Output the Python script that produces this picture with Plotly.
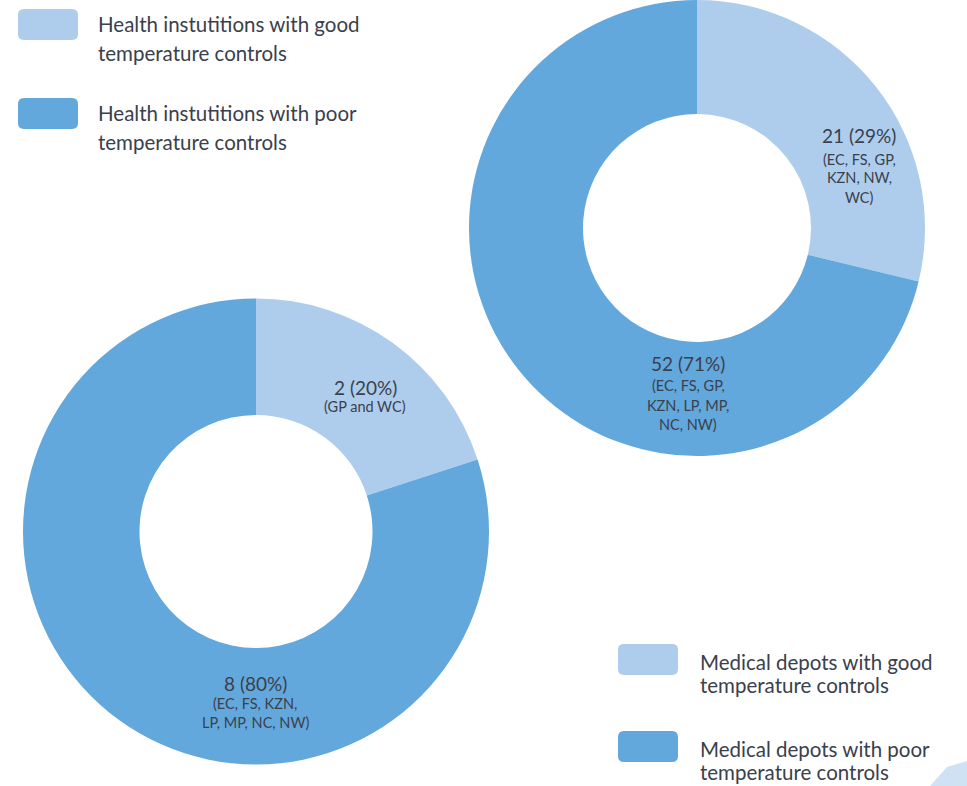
import plotly.graph_objects as go

W, H = 967, 786

LIGHT = "#aecdec"
DARK = "#62a8dc"
TEXT = "#3a404c"
FONT = "Lato"

# Medical depots (upper-right donut)
depot_labels = ["Medical depots with good temperature controls",
                "Medical depots with poor temperature controls"]
depot_values = [21, 52]
depot_provinces = [["(EC, FS, GP,", "KZN, NW,", "WC)"],
                   ["(EC, FS, GP,", "KZN, LP, MP,", "NC, NW)"]]

# Health institutions (lower-left donut)
health_labels = ["Health instutitions with good temperature controls",
                 "Health instutitions with poor temperature controls"]
health_values = [2, 8]
health_provinces = [["(GP and WC)"],
                    ["(EC, FS, KZN,", "LP, MP, NC, NW)"]]

legend_top = [["Health instutitions with good", "temperature controls"],
              ["Health instutitions with poor", "temperature controls"]]
legend_bottom = [["Medical depots with good", "temperature controls"],
                 ["Medical depots with poor", "temperature controls"]]


def px(x):
    return x / W


def py(y):
    return 1 - y / H


fig = go.Figure()

fig.add_trace(go.Pie(
    labels=depot_labels, values=depot_values, hole=0.5, sort=False,
    direction="clockwise", rotation=0, textinfo="none",
    marker=dict(colors=[LIGHT, DARK], line=dict(width=0)),
    domain=dict(x=[px(465), px(929)], y=[py(456), 1.0]),
    showlegend=False,
))
fig.add_trace(go.Pie(
    labels=health_labels, values=health_values, hole=0.5, sort=False,
    direction="clockwise", rotation=0, textinfo="none",
    marker=dict(colors=[LIGHT, DARK], line=dict(width=0)),
    domain=dict(x=[px(23), px(489)], y=[py(765), py(298)]),
    showlegend=False,
))

annotations = []


def add_text(x, y, text, size, xanchor="center"):
    annotations.append(dict(
        x=px(x), y=py(y), xref="paper", yref="paper", text=text,
        showarrow=False, xanchor=xanchor, yanchor="middle",
        font=dict(family=FONT, size=size, color=TEXT),
    ))


def slice_labels(values, provinces, anchors):
    total = sum(values)
    for v, prov, (cx, cy, gaps) in zip(values, provinces, anchors):
        add_text(cx, cy, f"{v} ({round(100 * v / total)}%)", 19)
        for line, dy in zip(prov, gaps):
            add_text(cx, cy + dy, line, 14.5)


slice_labels(depot_values, depot_provinces,
             [(859, 135, [24, 43, 62]), (688, 363, [22, 42, 61])])
slice_labels(health_values, health_provinces,
             [(365, 387, [19]), (255, 683, [20, 39])])

shapes = []


def rounded_rect(x0, y0, w, h, r):
    # rounded swatch outline in pixel units, converted to paper space
    pts = [
        ("M", [(x0 + r, y0)]),
        ("L", [(x0 + w - r, y0)]),
        ("Q", [(x0 + w, y0), (x0 + w, y0 + r)]),
        ("L", [(x0 + w, y0 + h - r)]),
        ("Q", [(x0 + w, y0 + h), (x0 + w - r, y0 + h)]),
        ("L", [(x0 + r, y0 + h)]),
        ("Q", [(x0, y0 + h), (x0, y0 + h - r)]),
        ("L", [(x0, y0 + r)]),
        ("Q", [(x0, y0), (x0 + r, y0)]),
    ]
    parts = []
    for cmd, coords in pts:
        parts.append(cmd + " " + " ".join(f"{px(a):.5f},{py(b):.5f}" for a, b in coords))
    return " ".join(parts) + " Z"


def legend_block(items, colors, x0, y0s, tx, line_offsets):
    for lines, color, y0 in zip(items, colors, y0s):
        shapes.append(dict(
            type="path", xref="paper", yref="paper",
            path=rounded_rect(x0, y0, 60, 31, 6),
            fillcolor=color, line=dict(width=0), layer="above",
        ))
        for line, off in zip(lines, line_offsets):
            add_text(tx, y0 + off, line, 20.5, xanchor="left")


legend_block(legend_top, [LIGHT, DARK], 18, [9, 98], 96, [15, 44])
legend_block(legend_bottom, [LIGHT, DARK], 618, [644, 731], 698, [18, 41])

# corner accent
shapes.append(dict(
    type="path", xref="paper", yref="paper",
    path=f"M {px(947)} {py(767)} L {px(967)} {py(761)} L {px(967)} {py(786)} "
         f"L {px(930)} {py(786)} Z",
    fillcolor="#cfe2f4", line=dict(width=0),
))

fig.update_layout(
    width=W, height=H,
    margin=dict(l=0, r=0, t=0, b=0),
    paper_bgcolor="white", plot_bgcolor="white",
    annotations=annotations, shapes=shapes,
)

fig.write_html("out.html")
